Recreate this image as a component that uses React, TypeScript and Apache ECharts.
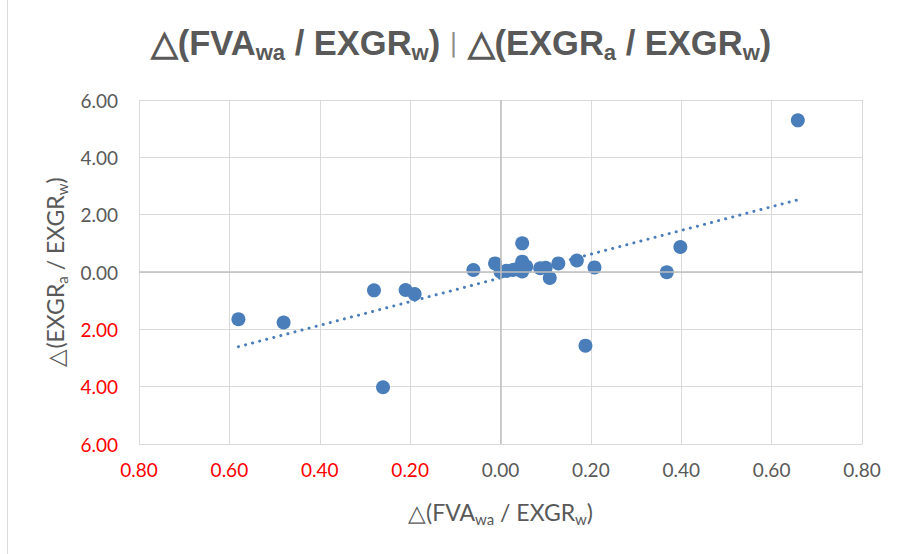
import React, { useEffect, useRef } from 'react';
import * as echarts from 'echarts';

// Δ(FVA_wa / EXGR_w) values (x) and Δ(EXGR_a / EXGR_w) values (y)
const xValues = [
  -0.58, -0.48, -0.28, -0.26, -0.21, -0.19, -0.06, -0.012, 0.0, 0.013, 0.027,
  0.035, 0.048, 0.048, 0.057, 0.048, 0.088, 0.1, 0.109, 0.128, 0.169, 0.208,
  0.368, 0.398, 0.188, 0.658,
];
const yValues = [
  -1.65, -1.76, -0.64, -4.02, -0.63, -0.77, 0.07, 0.3, 0.01, 0.04, 0.07,
  0.1, 1.0, 0.36, 0.19, 0.02, 0.13, 0.15, -0.21, 0.3, 0.4, 0.16,
  -0.01, 0.87, -2.57, 5.29,
];

const xAxisMin = -0.8;
const xAxisMax = 0.8;
const xAxisStep = 0.2;
const yAxisMin = -6;
const yAxisMax = 6;
const yAxisStep = 2;

const BLUE = '#4a7ebb';
const GREY = '#595959';

function linearFit(xs: number[], ys: number[]) {
  const n = xs.length;
  const mx = xs.reduce((a, b) => a + b, 0) / n;
  const my = ys.reduce((a, b) => a + b, 0) / n;
  let sxy = 0;
  let sxx = 0;
  for (let i = 0; i < n; i++) {
    sxy += (xs[i] - mx) * (ys[i] - my);
    sxx += (xs[i] - mx) * (xs[i] - mx);
  }
  const slope = sxy / sxx;
  return { slope, intercept: my - slope * mx };
}

const fmt = (v: number | string) => Math.abs(Number(v)).toFixed(2);
const labelColor = (v: any) => (Number(v) < -1e-9 ? '#ff0000' : GREY);

export default function App() {
  const ref = useRef<HTMLDivElement>(null);

  useEffect(() => {
    if (!ref.current) return;
    const chart = echarts.init(ref.current, undefined, { renderer: 'svg' });

    const points = xValues.map((x, i) => [x, yValues[i]]);
    const { slope, intercept } = linearFit(xValues, yValues);
    const xMin = Math.min(...xValues);
    const xMax = Math.max(...xValues);
    const trend = [
      [xMin, intercept + slope * xMin],
      [xMax, intercept + slope * xMax],
    ];

    const titleFont = '"Liberation Sans", Arial, sans-serif';
    const font = 'Lato, "Open Sans", sans-serif';
    const nameRich = {
      t: { fontSize: 23, color: GREY, fontFamily: font },
      s: { fontSize: 15, color: GREY, fontFamily: font, padding: [13, 0, 0, 0] },
    };

    chart.setOption({
      animation: false,
      backgroundColor: '#ffffff',
      title: {
        text: '{t|△(FVA}{s|wa}{t| / EXGR}{s|w}{t|)}{sep| ∣ }{t|△(EXGR}{s|a}{t| / EXGR}{s|w}{t|)}',
        left: 456,
        top: 17,
        textAlign: 'center',
        textStyle: {
          rich: {
            t: { fontSize: 34.5, fontWeight: 'bold', color: GREY, fontFamily: titleFont },
            s: { fontSize: 22, fontWeight: 'bold', color: GREY, fontFamily: titleFont, padding: [19, 0, 0, 0] },
            sep: { fontSize: 26, fontWeight: 'normal', color: '#8c8c8c', fontFamily: titleFont },
          },
        },
      },
      grid: { left: 139, top: 100, width: 723, height: 344, containLabel: false },
      xAxis: {
        type: 'value',
        min: xAxisMin,
        max: xAxisMax,
        interval: xAxisStep,
        name: '{t|△(FVA}{s|wa}{t| / EXGR}{s|w}{t|)}',
        nameLocation: 'middle',
        nameGap: 54,
        nameTextStyle: { rich: nameRich },
        axisLine: { show: false },
        axisTick: { show: false },
        axisLabel: {
          formatter: fmt,
          color: labelColor,
          fontSize: 19,
          fontFamily: font,
          margin: 16,
        },
        splitLine: { show: true, lineStyle: { color: '#d9d9d9', width: 1 } },
      },
      yAxis: {
        type: 'value',
        min: yAxisMin,
        max: yAxisMax,
        interval: yAxisStep,
        name: '{t|△(EXGR}{s|a}{t| / EXGR}{s|w}{t|)}',
        nameLocation: 'middle',
        nameGap: 70,
        nameRotate: 90,
        nameTextStyle: { rich: nameRich },
        axisLine: { show: false },
        axisTick: { show: false },
        axisLabel: {
          formatter: fmt,
          color: labelColor,
          fontSize: 19,
          fontFamily: font,
          margin: 21,
        },
        splitLine: { show: true, lineStyle: { color: '#d9d9d9', width: 1 } },
      },
      graphic: [
        {
          type: 'line',
          shape: { x1: 7.5, y1: 0, x2: 7.5, y2: 554 },
          style: { stroke: '#d9d9d9', lineWidth: 1 },
          silent: true,
        },
      ],
      series: [
        {
          type: 'line',
          data: [],
          z: 1,
          silent: true,
          markLine: {
            silent: true,
            symbol: 'none',
            label: { show: false },
            lineStyle: { color: '#bfbfbf', width: 1.5, type: 'solid' },
            data: [{ xAxis: 0 }, { yAxis: 0 }],
          },
        },
        {
          type: 'scatter',
          data: points,
          symbol: 'circle',
          symbolSize: 14,
          z: 3,
          itemStyle: { color: BLUE, opacity: 1 },
        },
        {
          type: 'line',
          data: trend,
          z: 4,
          showSymbol: false,
          symbol: 'none',
          silent: true,
          lineStyle: { color: BLUE, width: 3, type: [0.1, 7.2], cap: 'round' },
        },
      ],
    });

    return () => chart.dispose();
  }, []);

  return (
    <div
      ref={ref}
      style={{ position: 'fixed', left: 0, top: 0, width: 900, height: 554, background: '#fff' }}
    />
  );
}
